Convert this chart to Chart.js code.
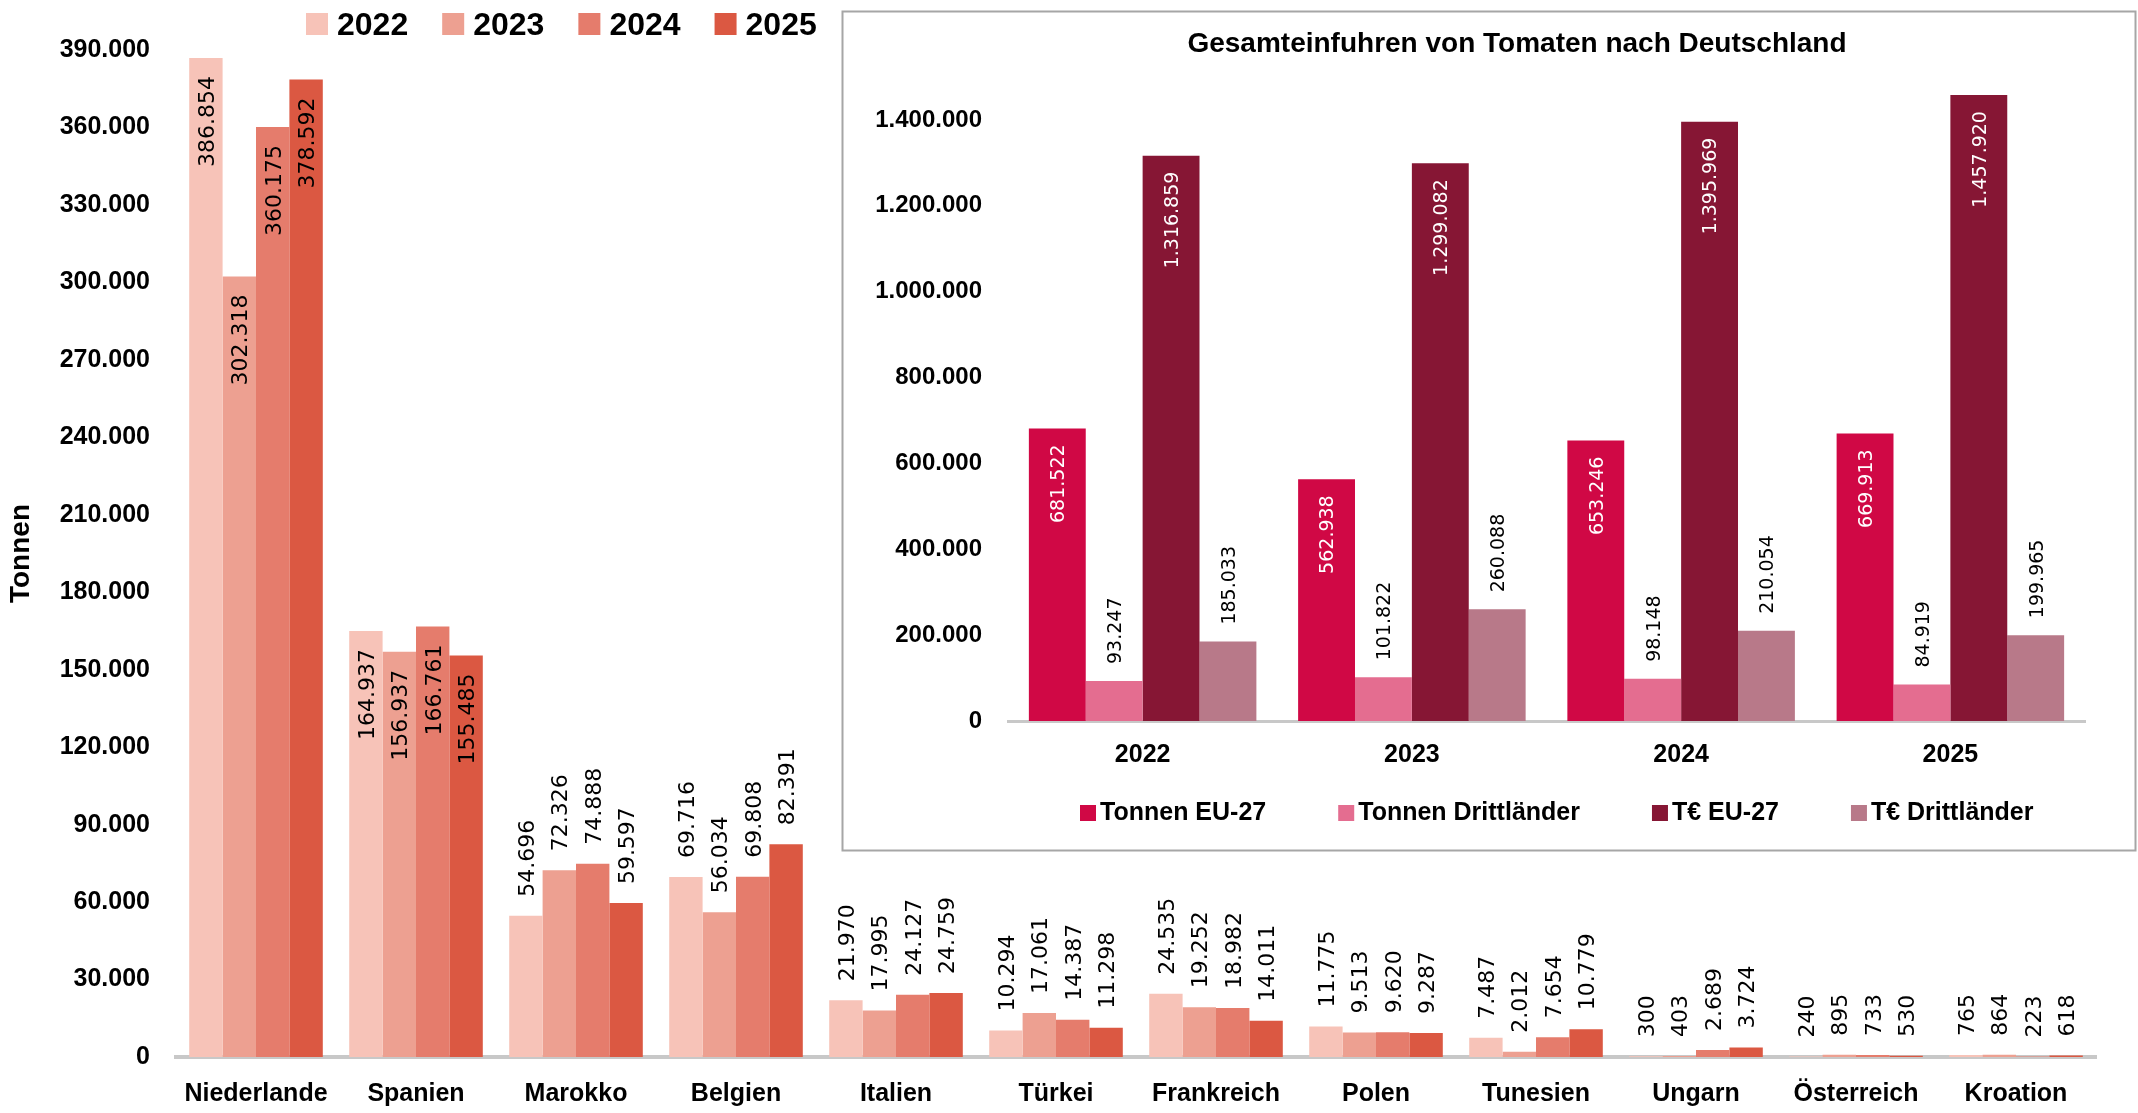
<!DOCTYPE html>
<html><head><meta charset="utf-8">
<script src="https://cdn.jsdelivr.net/npm/chart.js@4.4.1/dist/chart.umd.min.js"></script>
<style>
html,body{margin:0;padding:0;background:#fff;overflow:hidden;width:2138px;height:1113px}
#main{position:absolute;left:0;top:0}
#inset{position:absolute;left:841px;top:10px}
</style></head><body>
<canvas id="main" width="2138" height="1113"></canvas>
<canvas id="inset" width="1296" height="842"></canvas>
<script>
// ---- Main chart data ----
const countries = ['Niederlande','Spanien','Marokko','Belgien','Italien','Türkei','Frankreich','Polen','Tunesien','Ungarn','Österreich','Kroation'];
const years = ['2022','2023','2024','2025'];
const v2022 = [386854,164937,54696,69716,21970,10294,24535,11775,7487,300,240,765];
const v2023 = [302318,156937,72326,56034,17995,17061,19252,9513,2012,403,895,864];
const v2024 = [360175,166761,74888,69808,24127,14387,18982,9620,7654,2689,733,223];
const v2025 = [378592,155485,59597,82391,24759,11298,14011,9287,10779,3724,530,618];
const yearColors = ['#F7C3B8','#EDA091','#E57C6C','#DB5842'];
const mainTicksMax = 390000, mainTickStep = 30000;

// ---- Inset chart data ----
const insetTitle = 'Gesamteinfuhren von Tomaten nach Deutschland';
const insetYears = ['2022','2023','2024','2025'];
const insetSeries = ['Tonnen EU-27','Tonnen Drittländer','T€ EU-27','T€ Drittländer'];
const tonnenEU = [681522,562938,653246,669913];
const tonnenDritt = [93247,101822,98148,84919];
const euroEU = [1316859,1299082,1395969,1457920];
const euroDritt = [185033,260088,210054,199965];
const insetColors = ['#D00845','#E46D90','#861634','#B87989'];
const insetTickValues = [0,200000,400000,600000,800000,1000000,1200000,1400000];

const BOLD = '"Liberation Sans", Arial, sans-serif';
const LBL = '"DejaVu Sans", Verdana, sans-serif';
function fmt(n){ return String(n).replace(/\B(?=(\d{3})+(?!\d))/g,'.'); }

Chart.defaults.color = '#000';
Chart.defaults.font.family = BOLD;

function valueLabels(cfg){
  return { id:'valueLabels', afterDatasetsDraw(chart){
    const ctx = chart.ctx;
    chart.data.datasets.forEach((ds,di)=>{
      const meta = chart.getDatasetMeta(di);
      meta.data.forEach((bar,i)=>{
        const v = ds.data[i];
        const inside = v > cfg.threshold;
        ctx.save();
        ctx.translate(bar.x, bar.y);
        ctx.rotate(-Math.PI/2);
        ctx.font = cfg.size + 'px ' + LBL;
        ctx.textBaseline = 'alphabetic';
        ctx.fillStyle = inside ? cfg.inColor : cfg.outColor;
        const by = cfg.size*0.365;
        if (inside){ ctx.textAlign='right'; ctx.fillText(fmt(v), -cfg.inOff, by); }
        else { ctx.textAlign='left'; ctx.fillText(fmt(v), cfg.outOff, by); }
        ctx.restore();
      });
    });
  }};
}

// main legend
const mainLegend = { id:'mainLegend', afterDraw(chart){
  const ctx = chart.ctx; ctx.save();
  ctx.font = 'bold 32px ' + BOLD; ctx.textAlign='left'; ctx.textBaseline='alphabetic';
  let x = 306;
  chart.data.datasets.forEach(ds=>{
    ctx.fillStyle = ds.backgroundColor; ctx.fillRect(x, 13, 22, 22);
    ctx.fillStyle = '#000'; ctx.fillText(ds.label, x+31, 35);
    x += 31 + ctx.measureText(ds.label).width + 34;
  });
  ctx.restore();
}};

new Chart(document.getElementById('main'), {
  type:'bar',
  data:{ labels: countries, datasets:[
    {label:years[0], data:v2022, backgroundColor:yearColors[0]},
    {label:years[1], data:v2023, backgroundColor:yearColors[1]},
    {label:years[2], data:v2024, backgroundColor:yearColors[2]},
    {label:years[3], data:v2025, backgroundColor:yearColors[3]}
  ]},
  options:{
    responsive:false, animation:false, devicePixelRatio:1,
    layout:{padding:{left:0,right:42,top:50,bottom:0}},
    datasets:{bar:{categoryPercentage:0.835, barPercentage:1.0, borderWidth:0}},
    plugins:{legend:{display:false}, tooltip:{enabled:false}, title:{display:false}},
    scales:{
      x:{
        grid:{display:false, drawTicks:false},
        border:{display:true, color:'#C8C8C8', width:4},
        ticks:{font:{size:25, weight:'bold', family:BOLD}, color:'#000', padding:22, autoSkip:false, maxRotation:0},
        afterFit(s){ s.height = 1113-1057; }
      },
      y:{
        min:0, max:mainTicksMax,
        grid:{display:false, drawTicks:false},
        border:{display:false},
        ticks:{stepSize:mainTickStep, font:{size:25, weight:'bold', family:BOLD}, color:'#000', padding:26, callback:v=>fmt(v)},
        title:{display:true, text:'Tonnen', font:{size:28, weight:'bold', family:BOLD}, color:'#000', padding:{top:4,bottom:4}},
        afterFit(s){ s.width = 176; }
      }
    }
  },
  plugins:[valueLabels({threshold:100000, size:22, inOff:18, outOff:19, inColor:'#000', outColor:'#000'}), mainLegend]
});

// inset frame, title and legend
const insetDeco = { id:'insetDeco',
  beforeDraw(chart){
    const ctx = chart.ctx; ctx.save();
    ctx.fillStyle='#fff'; ctx.fillRect(0,0,chart.width,chart.height);
    ctx.restore();
  },
  afterDraw(chart){
    const ctx = chart.ctx; ctx.save();
    ctx.strokeStyle='#A6A6A6'; ctx.lineWidth=2;
    ctx.strokeRect(1.5,1.5,chart.width-3,chart.height-3);
    ctx.fillStyle='#000';
    ctx.font='bold 28px '+BOLD; ctx.textAlign='center'; ctx.textBaseline='alphabetic';
    ctx.fillText(insetTitle, 676, 42);
    ctx.font='bold 25px '+BOLD; ctx.textAlign='left';
    let x = 239;
    chart.data.datasets.forEach(ds=>{
      ctx.fillStyle = ds.backgroundColor; ctx.fillRect(x, 795, 16, 16);
      ctx.fillStyle = '#000'; ctx.fillText(ds.label, x+20, 810);
      x += 20 + ctx.measureText(ds.label).width + 72;
    });
    ctx.restore();
  }
};

new Chart(document.getElementById('inset'), {
  type:'bar',
  data:{ labels: insetYears, datasets:[
    {label:insetSeries[0], data:tonnenEU, backgroundColor:insetColors[0]},
    {label:insetSeries[1], data:tonnenDritt, backgroundColor:insetColors[1]},
    {label:insetSeries[2], data:euroEU, backgroundColor:insetColors[2]},
    {label:insetSeries[3], data:euroDritt, backgroundColor:insetColors[3]}
  ]},
  options:{
    responsive:false, animation:false, devicePixelRatio:1,
    layout:{padding:{left:0,right:52,top:67,bottom:0}},
    datasets:{bar:{categoryPercentage:0.845, barPercentage:1.0, borderWidth:0}},
    plugins:{legend:{display:false}, tooltip:{enabled:false}, title:{display:false}},
    scales:{
      x:{
        grid:{display:false, drawTicks:false},
        border:{display:true, color:'#C8C8C8', width:3},
        ticks:{font:{size:25, weight:'bold', family:BOLD}, color:'#000', padding:19, autoSkip:false, maxRotation:0},
        afterFit(s){ s.height = 842-711; }
      },
      y:{
        min:0, max:1500000,
        grid:{display:false, drawTicks:false},
        border:{display:false},
        afterBuildTicks(s){ s.ticks = insetTickValues.map(v=>({value:v})); },
        ticks:{font:{size:24, weight:'bold', family:BOLD}, color:'#000', padding:26, callback:v=>fmt(v)},
        afterFit(s){ s.width = 167; }
      }
    }
  },
  plugins:[valueLabels({threshold:400000, size:19, inOff:16, outOff:17, inColor:'#fff', outColor:'#000'}), insetDeco]
});
</script>
</body></html>
